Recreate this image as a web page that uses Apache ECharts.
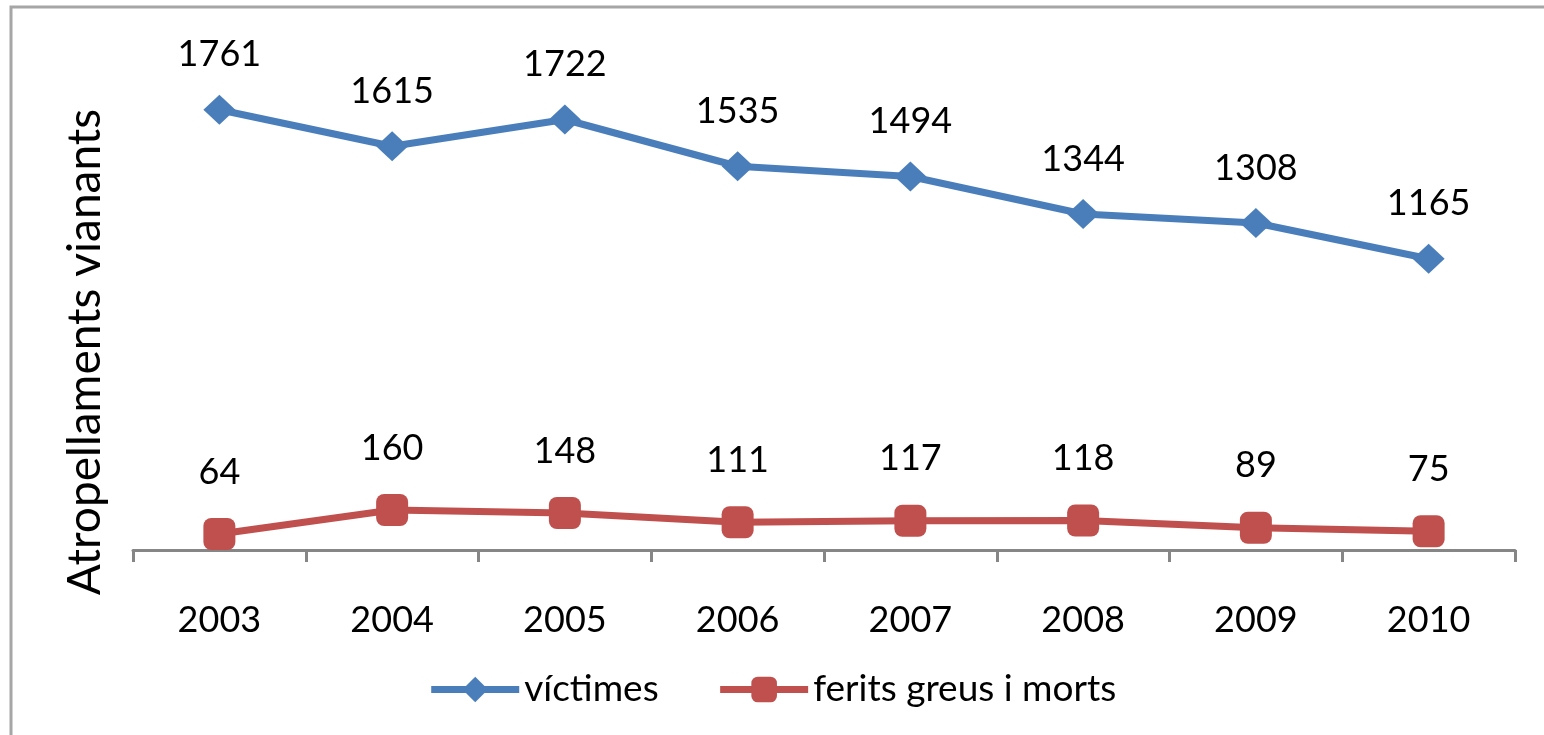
<!DOCTYPE html>
<html>
<head>
<meta charset="utf-8">
<script src="https://cdn.jsdelivr.net/npm/echarts@6/dist/echarts.min.js"></script>
<style>
  html, body { margin: 0; padding: 0; background: #fff; }
  #chart { width: 1544px; height: 735px; }
</style>
</head>
<body>
<div id="chart"></div>
<script>
var years = ['2003', '2004', '2005', '2006', '2007', '2008', '2009', '2010'];
var victimes = [1761, 1615, 1722, 1535, 1494, 1344, 1308, 1165];
var feritsGreus = [64, 160, 148, 111, 117, 118, 89, 75];
var seriesNames = ['víctimes', 'ferits greus i morts'];

var chart = echarts.init(document.getElementById('chart'));
var font = 'Lato, "Open Sans", sans-serif';

var option = {
    animation: false,
    textStyle: { fontFamily: font },
    graphic: [
        {
            type: 'rect',
            shape: { x: 11, y: 7, width: 1600, height: 800 },
            style: { fill: 'none', stroke: '#a6a6a6', lineWidth: 3 },
            silent: true
        },
        {
            type: 'text',
            x: 62, y: 352,
            rotation: Math.PI / 2,
            style: {
                text: 'Atropellaments vianants',
                fontSize: 46,
                fontFamily: font,
                fill: '#000',
                align: 'center',
                verticalAlign: 'top'
            }
        }
    ],
    grid: { left: 133, right: 29, top: 50, bottom: 185 },
    legend: {
        bottom: 22,
        left: 'center',
        itemWidth: 88,
        itemHeight: 32,
        itemGap: 58,
        lineStyle: { width: 7 },
        textStyle: { fontSize: 37, fontFamily: font, color: '#000' },
        data: seriesNames
    },
    xAxis: {
        type: 'category',
        data: years,
        boundaryGap: true,
        axisLine: { lineStyle: { color: '#868686', width: 3 } },
        axisTick: { show: true, length: 12, lineStyle: { color: '#868686', width: 3 } },
        axisLabel: { fontSize: 36, color: '#000', margin: 52, fontFamily: font }
    },
    yAxis: {
        type: 'value',
        min: 0,
        max: 2000,
        show: false,
        splitLine: { show: false }
    },
    series: [
        {
            name: seriesNames[0],
            type: 'line',
            data: victimes,
            symbol: 'diamond',
            symbolSize: [32, 30],
            color: '#4a7ebb',
            lineStyle: { width: 7, color: '#4a7ebb' },
            itemStyle: { color: '#4a7ebb' },
            label: {
                show: true,
                position: 'top',
                distance: 22,
                fontSize: 36,
                color: '#000',
                fontFamily: font
            }
        },
        {
            name: seriesNames[1],
            type: 'line',
            data: feritsGreus,
            symbol: 'roundRect',
            symbolSize: 32,
            color: '#c0504d',
            lineStyle: { width: 7, color: '#c0504d' },
            itemStyle: { color: '#c0504d' },
            label: {
                show: true,
                position: 'top',
                distance: 28,
                fontSize: 36,
                color: '#000',
                fontFamily: font
            }
        }
    ]
};

chart.setOption(option);
</script>
</body>
</html>
